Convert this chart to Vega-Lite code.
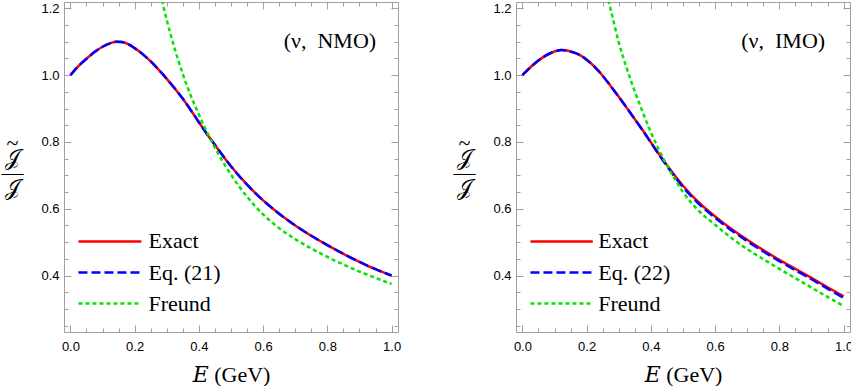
{
"$schema": "https://vega.github.io/schema/vega-lite/v6.json",
"autosize": {"type": "pad"},
"padding": {"left": 0, "top": 1, "right": 2, "bottom": 0},
"background": "white",
"datasets": {
"nmo": [
{"E":0,"v":1.000,"s":"Exact"},{"E":0.025,"v":1.027,"s":"Exact"},{"E":0.05,"v":1.049,"s":"Exact"},{"E":0.075,"v":1.069,"s":"Exact"},{"E":0.1,"v":1.085,"s":"Exact"},{"E":0.125,"v":1.096,"s":"Exact"},{"E":0.143,"v":1.100,"s":"Exact"},{"E":0.16,"v":1.099,"s":"Exact"},{"E":0.18,"v":1.093,"s":"Exact"},{"E":0.2,"v":1.081,"s":"Exact"},{"E":0.225,"v":1.063,"s":"Exact"},{"E":0.25,"v":1.041,"s":"Exact"},{"E":0.275,"v":1.016,"s":"Exact"},{"E":0.3,"v":0.989,"s":"Exact"},{"E":0.325,"v":0.960,"s":"Exact"},{"E":0.35,"v":0.929,"s":"Exact"},{"E":0.375,"v":0.895,"s":"Exact"},{"E":0.4,"v":0.859,"s":"Exact"},{"E":0.425,"v":0.824,"s":"Exact"},{"E":0.45,"v":0.791,"s":"Exact"},{"E":0.5,"v":0.727,"s":"Exact"},{"E":0.55,"v":0.672,"s":"Exact"},{"E":0.6,"v":0.625,"s":"Exact"},{"E":0.65,"v":0.585,"s":"Exact"},{"E":0.7,"v":0.550,"s":"Exact"},{"E":0.75,"v":0.519,"s":"Exact"},{"E":0.8,"v":0.491,"s":"Exact"},{"E":0.85,"v":0.465,"s":"Exact"},{"E":0.9,"v":0.441,"s":"Exact"},{"E":0.95,"v":0.419,"s":"Exact"},{"E":1.0,"v":0.400,"s":"Exact"},
{"E":0,"v":1.000,"s":"Eq"},{"E":0.025,"v":1.027,"s":"Eq"},{"E":0.05,"v":1.049,"s":"Eq"},{"E":0.075,"v":1.069,"s":"Eq"},{"E":0.1,"v":1.085,"s":"Eq"},{"E":0.125,"v":1.096,"s":"Eq"},{"E":0.143,"v":1.100,"s":"Eq"},{"E":0.16,"v":1.099,"s":"Eq"},{"E":0.18,"v":1.093,"s":"Eq"},{"E":0.2,"v":1.081,"s":"Eq"},{"E":0.225,"v":1.063,"s":"Eq"},{"E":0.25,"v":1.041,"s":"Eq"},{"E":0.275,"v":1.016,"s":"Eq"},{"E":0.3,"v":0.989,"s":"Eq"},{"E":0.325,"v":0.960,"s":"Eq"},{"E":0.35,"v":0.929,"s":"Eq"},{"E":0.375,"v":0.895,"s":"Eq"},{"E":0.4,"v":0.859,"s":"Eq"},{"E":0.425,"v":0.824,"s":"Eq"},{"E":0.45,"v":0.791,"s":"Eq"},{"E":0.5,"v":0.727,"s":"Eq"},{"E":0.55,"v":0.672,"s":"Eq"},{"E":0.6,"v":0.625,"s":"Eq"},{"E":0.65,"v":0.585,"s":"Eq"},{"E":0.7,"v":0.550,"s":"Eq"},{"E":0.75,"v":0.519,"s":"Eq"},{"E":0.8,"v":0.491,"s":"Eq"},{"E":0.85,"v":0.465,"s":"Eq"},{"E":0.9,"v":0.441,"s":"Eq"},{"E":0.95,"v":0.419,"s":"Eq"},{"E":1.0,"v":0.400,"s":"Eq"},
{"E":0.28,"v":1.245,"s":"Freund"},{"E":0.3,"v":1.165,"s":"Freund"},{"E":0.325,"v":1.078,"s":"Freund"},{"E":0.35,"v":1.003,"s":"Freund"},{"E":0.375,"v":0.938,"s":"Freund"},{"E":0.4,"v":0.882,"s":"Freund"},{"E":0.425,"v":0.830,"s":"Freund"},{"E":0.45,"v":0.783,"s":"Freund"},{"E":0.475,"v":0.740,"s":"Freund"},{"E":0.5,"v":0.702,"s":"Freund"},{"E":0.525,"v":0.667,"s":"Freund"},{"E":0.55,"v":0.636,"s":"Freund"},{"E":0.6,"v":0.583,"s":"Freund"},{"E":0.65,"v":0.542,"s":"Freund"},{"E":0.7,"v":0.509,"s":"Freund"},{"E":0.75,"v":0.481,"s":"Freund"},{"E":0.8,"v":0.456,"s":"Freund"},{"E":0.85,"v":0.433,"s":"Freund"},{"E":0.9,"v":0.412,"s":"Freund"},{"E":0.95,"v":0.393,"s":"Freund"},{"E":1.0,"v":0.375,"s":"Freund"}
],
"imo": [
{"E":0,"v":1.000,"s":"Exact"},{"E":0.03,"v":1.028,"s":"Exact"},{"E":0.06,"v":1.051,"s":"Exact"},{"E":0.09,"v":1.067,"s":"Exact"},{"E":0.121,"v":1.075,"s":"Exact"},{"E":0.15,"v":1.071,"s":"Exact"},{"E":0.175,"v":1.062,"s":"Exact"},{"E":0.2,"v":1.046,"s":"Exact"},{"E":0.225,"v":1.025,"s":"Exact"},{"E":0.25,"v":0.998,"s":"Exact"},{"E":0.275,"v":0.967,"s":"Exact"},{"E":0.3,"v":0.935,"s":"Exact"},{"E":0.325,"v":0.902,"s":"Exact"},{"E":0.35,"v":0.868,"s":"Exact"},{"E":0.375,"v":0.834,"s":"Exact"},{"E":0.4,"v":0.799,"s":"Exact"},{"E":0.425,"v":0.764,"s":"Exact"},{"E":0.45,"v":0.731,"s":"Exact"},{"E":0.5,"v":0.669,"s":"Exact"},{"E":0.55,"v":0.618,"s":"Exact"},{"E":0.6,"v":0.577,"s":"Exact"},{"E":0.65,"v":0.540,"s":"Exact"},{"E":0.7,"v":0.507,"s":"Exact"},{"E":0.75,"v":0.476,"s":"Exact"},{"E":0.8,"v":0.447,"s":"Exact"},{"E":0.85,"v":0.420,"s":"Exact"},{"E":0.9,"v":0.393,"s":"Exact"},{"E":0.95,"v":0.365,"s":"Exact"},{"E":1.0,"v":0.338,"s":"Exact"},
{"E":0,"v":1.000,"s":"Eq"},{"E":0.03,"v":1.028,"s":"Eq"},{"E":0.06,"v":1.051,"s":"Eq"},{"E":0.09,"v":1.067,"s":"Eq"},{"E":0.121,"v":1.075,"s":"Eq"},{"E":0.15,"v":1.071,"s":"Eq"},{"E":0.175,"v":1.062,"s":"Eq"},{"E":0.2,"v":1.046,"s":"Eq"},{"E":0.225,"v":1.025,"s":"Eq"},{"E":0.25,"v":0.998,"s":"Eq"},{"E":0.275,"v":0.967,"s":"Eq"},{"E":0.3,"v":0.935,"s":"Eq"},{"E":0.325,"v":0.902,"s":"Eq"},{"E":0.35,"v":0.868,"s":"Eq"},{"E":0.375,"v":0.834,"s":"Eq"},{"E":0.4,"v":0.798,"s":"Eq"},{"E":0.425,"v":0.762,"s":"Eq"},{"E":0.45,"v":0.728,"s":"Eq"},{"E":0.5,"v":0.665,"s":"Eq"},{"E":0.55,"v":0.614,"s":"Eq"},{"E":0.6,"v":0.573,"s":"Eq"},{"E":0.65,"v":0.536,"s":"Eq"},{"E":0.7,"v":0.503,"s":"Eq"},{"E":0.75,"v":0.472,"s":"Eq"},{"E":0.8,"v":0.443,"s":"Eq"},{"E":0.85,"v":0.416,"s":"Eq"},{"E":0.9,"v":0.389,"s":"Eq"},{"E":0.95,"v":0.361,"s":"Eq"},{"E":1.0,"v":0.333,"s":"Eq"},
{"E":0.262,"v":1.245,"s":"Freund"},{"E":0.275,"v":1.196,"s":"Freund"},{"E":0.3,"v":1.098,"s":"Freund"},{"E":0.325,"v":1.020,"s":"Freund"},{"E":0.35,"v":0.951,"s":"Freund"},{"E":0.375,"v":0.888,"s":"Freund"},{"E":0.4,"v":0.829,"s":"Freund"},{"E":0.425,"v":0.777,"s":"Freund"},{"E":0.45,"v":0.730,"s":"Freund"},{"E":0.475,"v":0.688,"s":"Freund"},{"E":0.5,"v":0.650,"s":"Freund"},{"E":0.55,"v":0.593,"s":"Freund"},{"E":0.6,"v":0.552,"s":"Freund"},{"E":0.65,"v":0.513,"s":"Freund"},{"E":0.7,"v":0.479,"s":"Freund"},{"E":0.75,"v":0.449,"s":"Freund"},{"E":0.8,"v":0.420,"s":"Freund"},{"E":0.85,"v":0.392,"s":"Freund"},{"E":0.9,"v":0.364,"s":"Freund"},{"E":0.95,"v":0.336,"s":"Freund"},{"E":1.0,"v":0.309,"s":"Freund"}
]
},
"hconcat": [
{
"width": 334, "height": 330,
"resolve": {"axis": {"x": "independent", "y": "independent"}},
"layer": [
{"data": {"name": "nmo"}, "transform": [{"filter": "datum.s === 'Exact'"}],
 "mark": {"type": "line", "color": "#ff0000", "strokeWidth": 2.5, "interpolate": "monotone", "clip": true},
 "encoding": {
  "x": {"field": "E", "type": "quantitative", "scale": {"domain": [-0.02, 1.02], "nice": false, "zero": false},
   "axis": {"orient": "bottom", "values": [0, 0.2, 0.4, 0.6, 0.8, 1], "format": ".1f", "tickSize": -7, "labelPadding": 15, "labelFlush": false, "title": "𝐸 (GeV)", "titleFont": "Liberation Serif, DejaVu Serif, serif", "titleFontSize": 22, "titleFontWeight": "normal", "titleColor": "#000", "titleBaseline": "middle", "titleY": 42}},
  "y": {"field": "v", "type": "quantitative", "scale": {"domain": [0.231, 1.219], "nice": false, "zero": false},
   "axis": {"orient": "left", "values": [0.4, 0.6, 0.8, 1, 1.2], "format": ".1f", "tickSize": -7, "labelPadding": 12, "labelFlush": false, "title": ["~", "𝒥", "—", "𝒥"], "titleAngle": 0, "titleX": -52, "titleY": 140, "titleAlign": "center", "titleBaseline": "middle", "titleFont": "Liberation Serif, DejaVu Serif, serif", "titleFontSize": 22, "titleFontWeight": "normal", "titleColor": "#000", "titleLineHeight": 15}}
 }},
{"data": {"name": "nmo"}, "transform": [{"filter": "datum.s === 'Eq'"}],
 "mark": {"type": "line", "color": "#0000ff", "strokeWidth": 2.5, "strokeDash": [10, 4], "interpolate": "monotone", "clip": true},
 "encoding": {
  "x": {"field": "E", "type": "quantitative", "scale": {"domain": [-0.02, 1.02], "nice": false, "zero": false},
   "axis": {"orient": "top", "values": [0, 0.2, 0.4, 0.6, 0.8, 1], "tickSize": -7, "labels": false, "title": null}},
  "y": {"field": "v", "type": "quantitative", "scale": {"domain": [0.231, 1.219], "nice": false, "zero": false},
   "axis": {"orient": "right", "values": [0.4, 0.6, 0.8, 1, 1.2], "tickSize": -7, "labels": false, "title": null}}
 }},
{"data": {"name": "nmo"}, "transform": [{"filter": "datum.s === 'Freund'"}],
 "mark": {"type": "line", "color": "#00e600", "strokeWidth": 2.5, "strokeDash": [4, 3], "interpolate": "monotone", "clip": true},
 "encoding": {
  "x": {"field": "E", "type": "quantitative", "scale": {"domain": [-0.02, 1.02], "nice": false, "zero": false},
   "axis": {"orient": "bottom", "values": [0.05, 0.1, 0.15, 0.25, 0.3, 0.35, 0.45, 0.5, 0.55, 0.65, 0.7, 0.75, 0.85, 0.9, 0.95], "tickSize": -4, "labels": false, "title": null}},
  "y": {"field": "v", "type": "quantitative", "scale": {"domain": [0.231, 1.219], "nice": false, "zero": false},
   "axis": {"orient": "left", "values": [0.25, 0.3, 0.35, 0.45, 0.5, 0.55, 0.65, 0.7, 0.75, 0.85, 0.9, 0.95, 1.05, 1.1, 1.15], "tickSize": -4, "labels": false, "title": null}}
 }},
{"data": {"values": [{"label": "(ν,\u2002NMO)"}]},
 "mark": {"type": "text", "align": "center", "baseline": "middle", "font": "Liberation Serif, DejaVu Serif, serif", "fontSize": 22, "color": "#000"},
 "encoding": {
  "text": {"field": "label"},
  "x": {"datum": 0.808, "type": "quantitative", "scale": {"domain": [-0.02, 1.02], "nice": false, "zero": false},
   "axis": {"orient": "top", "values": [0.05, 0.1, 0.15, 0.25, 0.3, 0.35, 0.45, 0.5, 0.55, 0.65, 0.7, 0.75, 0.85, 0.9, 0.95], "tickSize": -4, "labels": false, "title": null}},
  "y": {"datum": 1.103, "type": "quantitative", "scale": {"domain": [0.231, 1.219], "nice": false, "zero": false},
   "axis": {"orient": "right", "values": [0.25, 0.3, 0.35, 0.45, 0.5, 0.55, 0.65, 0.7, 0.75, 0.85, 0.9, 0.95, 1.05, 1.1, 1.15], "tickSize": -4, "labels": false, "title": null}}
 }},
{"data": {"values": [{"label": "Exact"}]},
 "mark": {"type": "rule", "color": "#ff0000", "strokeWidth": 2.5},
 "encoding": {"x": {"datum": 0.025, "type": "quantitative", "axis": null}, "x2": {"datum": 0.221}, "y": {"datum": 0.502, "type": "quantitative", "axis": null}}},
{"data": {"values": [{"label": "Eq"}]},
 "mark": {"type": "rule", "color": "#0000ff", "strokeWidth": 2.5, "strokeDash": [9, 4]},
 "encoding": {"x": {"datum": 0.025, "type": "quantitative", "axis": null}, "x2": {"datum": 0.221}, "y": {"datum": 0.409, "type": "quantitative", "axis": null}}},
{"data": {"values": [{"label": "Freund"}]},
 "mark": {"type": "rule", "color": "#00e600", "strokeWidth": 2.5, "strokeDash": [4, 3]},
 "encoding": {"x": {"datum": 0.025, "type": "quantitative", "axis": null}, "x2": {"datum": 0.221}, "y": {"datum": 0.316, "type": "quantitative", "axis": null}}},
{"data": {"values": [{"label": "Exact"}]},
 "mark": {"type": "text", "align": "left", "baseline": "middle", "font": "Liberation Serif, DejaVu Serif, serif", "fontSize": 22, "color": "#000"},
 "encoding": {"text": {"field": "label"}, "x": {"datum": 0.243, "type": "quantitative", "axis": null}, "y": {"datum": 0.502, "type": "quantitative", "axis": null}}},
{"data": {"values": [{"label": "Eq. (21)"}]},
 "mark": {"type": "text", "align": "left", "baseline": "middle", "font": "Liberation Serif, DejaVu Serif, serif", "fontSize": 22, "color": "#000"},
 "encoding": {"text": {"field": "label"}, "x": {"datum": 0.243, "type": "quantitative", "axis": null}, "y": {"datum": 0.409, "type": "quantitative", "axis": null}}},
{"data": {"values": [{"label": "Freund"}]},
 "mark": {"type": "text", "align": "left", "baseline": "middle", "font": "Liberation Serif, DejaVu Serif, serif", "fontSize": 22, "color": "#000"},
 "encoding": {"text": {"field": "label"}, "x": {"datum": 0.243, "type": "quantitative", "axis": null}, "y": {"datum": 0.316, "type": "quantitative", "axis": null}}}
]
},
{
"width": 334, "height": 330,
"resolve": {"axis": {"x": "independent", "y": "independent"}},
"layer": [
{"data": {"name": "imo"}, "transform": [{"filter": "datum.s === 'Exact'"}],
 "mark": {"type": "line", "color": "#ff0000", "strokeWidth": 2.5, "interpolate": "monotone", "clip": true},
 "encoding": {
  "x": {"field": "E", "type": "quantitative", "scale": {"domain": [-0.02, 1.02], "nice": false, "zero": false},
   "axis": {"orient": "bottom", "values": [0, 0.2, 0.4, 0.6, 0.8, 1], "format": ".1f", "tickSize": -7, "labelPadding": 15, "labelFlush": false, "title": "𝐸 (GeV)", "titleFont": "Liberation Serif, DejaVu Serif, serif", "titleFontSize": 22, "titleFontWeight": "normal", "titleColor": "#000", "titleBaseline": "middle", "titleY": 42}},
  "y": {"field": "v", "type": "quantitative", "scale": {"domain": [0.231, 1.219], "nice": false, "zero": false},
   "axis": {"orient": "left", "values": [0.4, 0.6, 0.8, 1, 1.2], "format": ".1f", "tickSize": -7, "labelPadding": 12, "labelFlush": false, "title": ["~", "𝒥", "—", "𝒥"], "titleAngle": 0, "titleX": -52, "titleY": 140, "titleAlign": "center", "titleBaseline": "middle", "titleFont": "Liberation Serif, DejaVu Serif, serif", "titleFontSize": 22, "titleFontWeight": "normal", "titleColor": "#000", "titleLineHeight": 15}}
 }},
{"data": {"name": "imo"}, "transform": [{"filter": "datum.s === 'Eq'"}],
 "mark": {"type": "line", "color": "#0000ff", "strokeWidth": 2.5, "strokeDash": [10, 4], "interpolate": "monotone", "clip": true},
 "encoding": {
  "x": {"field": "E", "type": "quantitative", "scale": {"domain": [-0.02, 1.02], "nice": false, "zero": false},
   "axis": {"orient": "top", "values": [0, 0.2, 0.4, 0.6, 0.8, 1], "tickSize": -7, "labels": false, "title": null}},
  "y": {"field": "v", "type": "quantitative", "scale": {"domain": [0.231, 1.219], "nice": false, "zero": false},
   "axis": {"orient": "right", "values": [0.4, 0.6, 0.8, 1, 1.2], "tickSize": -7, "labels": false, "title": null}}
 }},
{"data": {"name": "imo"}, "transform": [{"filter": "datum.s === 'Freund'"}],
 "mark": {"type": "line", "color": "#00e600", "strokeWidth": 2.5, "strokeDash": [4, 3], "interpolate": "monotone", "clip": true},
 "encoding": {
  "x": {"field": "E", "type": "quantitative", "scale": {"domain": [-0.02, 1.02], "nice": false, "zero": false},
   "axis": {"orient": "bottom", "values": [0.05, 0.1, 0.15, 0.25, 0.3, 0.35, 0.45, 0.5, 0.55, 0.65, 0.7, 0.75, 0.85, 0.9, 0.95], "tickSize": -4, "labels": false, "title": null}},
  "y": {"field": "v", "type": "quantitative", "scale": {"domain": [0.231, 1.219], "nice": false, "zero": false},
   "axis": {"orient": "left", "values": [0.25, 0.3, 0.35, 0.45, 0.5, 0.55, 0.65, 0.7, 0.75, 0.85, 0.9, 0.95, 1.05, 1.1, 1.15], "tickSize": -4, "labels": false, "title": null}}
 }},
{"data": {"values": [{"label": "(ν,\u2002IMO)"}]},
 "mark": {"type": "text", "align": "center", "baseline": "middle", "font": "Liberation Serif, DejaVu Serif, serif", "fontSize": 22, "color": "#000"},
 "encoding": {
  "text": {"field": "label"},
  "x": {"datum": 0.812, "type": "quantitative", "scale": {"domain": [-0.02, 1.02], "nice": false, "zero": false},
   "axis": {"orient": "top", "values": [0.05, 0.1, 0.15, 0.25, 0.3, 0.35, 0.45, 0.5, 0.55, 0.65, 0.7, 0.75, 0.85, 0.9, 0.95], "tickSize": -4, "labels": false, "title": null}},
  "y": {"datum": 1.103, "type": "quantitative", "scale": {"domain": [0.231, 1.219], "nice": false, "zero": false},
   "axis": {"orient": "right", "values": [0.25, 0.3, 0.35, 0.45, 0.5, 0.55, 0.65, 0.7, 0.75, 0.85, 0.9, 0.95, 1.05, 1.1, 1.15], "tickSize": -4, "labels": false, "title": null}}
 }},
{"data": {"values": [{"label": "Exact"}]},
 "mark": {"type": "rule", "color": "#ff0000", "strokeWidth": 2.5},
 "encoding": {"x": {"datum": 0.025, "type": "quantitative", "axis": null}, "x2": {"datum": 0.219}, "y": {"datum": 0.502, "type": "quantitative", "axis": null}}},
{"data": {"values": [{"label": "Eq"}]},
 "mark": {"type": "rule", "color": "#0000ff", "strokeWidth": 2.5, "strokeDash": [9, 4]},
 "encoding": {"x": {"datum": 0.025, "type": "quantitative", "axis": null}, "x2": {"datum": 0.219}, "y": {"datum": 0.409, "type": "quantitative", "axis": null}}},
{"data": {"values": [{"label": "Freund"}]},
 "mark": {"type": "rule", "color": "#00e600", "strokeWidth": 2.5, "strokeDash": [4, 3]},
 "encoding": {"x": {"datum": 0.025, "type": "quantitative", "axis": null}, "x2": {"datum": 0.219}, "y": {"datum": 0.316, "type": "quantitative", "axis": null}}},
{"data": {"values": [{"label": "Exact"}]},
 "mark": {"type": "text", "align": "left", "baseline": "middle", "font": "Liberation Serif, DejaVu Serif, serif", "fontSize": 22, "color": "#000"},
 "encoding": {"text": {"field": "label"}, "x": {"datum": 0.236, "type": "quantitative", "axis": null}, "y": {"datum": 0.502, "type": "quantitative", "axis": null}}},
{"data": {"values": [{"label": "Eq. (22)"}]},
 "mark": {"type": "text", "align": "left", "baseline": "middle", "font": "Liberation Serif, DejaVu Serif, serif", "fontSize": 22, "color": "#000"},
 "encoding": {"text": {"field": "label"}, "x": {"datum": 0.236, "type": "quantitative", "axis": null}, "y": {"datum": 0.409, "type": "quantitative", "axis": null}}},
{"data": {"values": [{"label": "Freund"}]},
 "mark": {"type": "text", "align": "left", "baseline": "middle", "font": "Liberation Serif, DejaVu Serif, serif", "fontSize": 22, "color": "#000"},
 "encoding": {"text": {"field": "label"}, "x": {"datum": 0.236, "type": "quantitative", "axis": null}, "y": {"datum": 0.316, "type": "quantitative", "axis": null}}}
]
}
],
"spacing": 118,
"bounds": "flush",
"config": {
 "view": {"stroke": "#a0a0a0", "strokeWidth": 1},
 "axis": {"domain": false, "grid": false, "tickColor": "#a0a0a0", "tickWidth": 1, "labelFont": "Liberation Sans", "labelFontSize": 13, "labelColor": "#000"}
}
}
